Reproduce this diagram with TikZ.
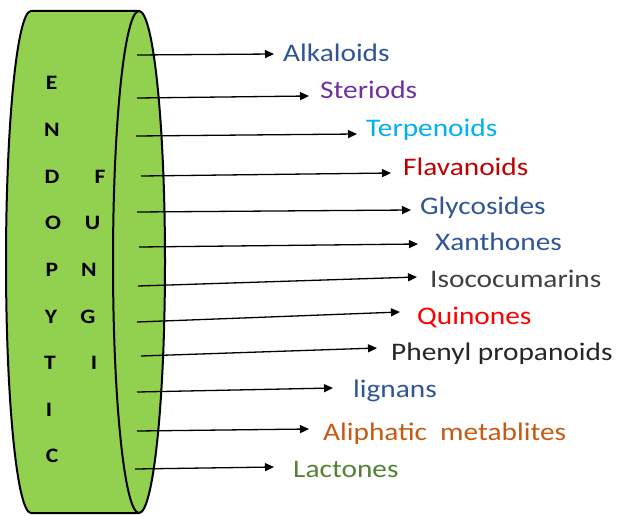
\documentclass[tikz,border=0pt]{standalone}
\usepackage{fontspec}
\setmainfont{Carlito}
\newfontfamily\labfont[FakeStretch=1.16]{Carlito}
\newfontfamily\letfont[FakeStretch=1.15]{Carlito}
\usetikzlibrary{arrows.meta}
\definecolor{cylgreen}{HTML}{92D050}
\definecolor{cblue}{HTML}{2F5597}
\definecolor{cpurple}{HTML}{7030A0}
\definecolor{ccyan}{HTML}{00B0F0}
\definecolor{cdarkred}{HTML}{C00000}
\definecolor{cgray}{HTML}{404040}
\definecolor{cred}{HTML}{FF0000}
\definecolor{cblack}{HTML}{262626}
\definecolor{corange}{HTML}{C55A11}
\definecolor{cgreen}{HTML}{548235}
\begin{document}
\begin{tikzpicture}[x=1pt,y=1pt,
  lab/.style={anchor=base west,inner sep=0pt,font=\labfont\fontsize{25.3}{28}\selectfont},
  letter/.style={anchor=base,inner sep=0pt,font=\letfont\bfseries\fontsize{20.5}{22}\selectfont},
  arr/.style={line width=1.3pt,-{Triangle[length=9pt,width=8pt]}},
  outline/.style={line width=2pt,line join=round}]
\useasboundingbox (0,0) rectangle (617,515);
% cylinder
\path[outline,fill=cylgreen,draw=black]
  (31,504) -- (139,504)
  arc[start angle=90,end angle=-90,x radius=26,y radius=251]
  -- (31,2)
  arc[start angle=270,end angle=90,x radius=25,y radius=251]
  -- cycle;
\draw[outline] (139,504) arc[start angle=90,end angle=270,x radius=26,y radius=251];
% letters
\node[letter] (l1) at (51.5,425) {E};
\node[letter] (l2) at (52,378.4) {N};
\node[letter] (l3) at (52,331.8) {D};
\node[letter] (l4) at (53,285.2) {O};
\node[letter] (l5) at (52,238.6) {P};
\node[letter] (l6) at (51,192) {Y};
\node[letter] (l7) at (50,145.4) {T};
\node[letter] (l8) at (49,98.8) {I};
\node[letter] (l9) at (52,52.2) {C};
\node[letter] (r1) at (100,331.8) {F};
\node[letter] (r2) at (92.5,285.2) {U};
\node[letter] (r3) at (89,238.6) {N};
\node[letter] (r4) at (88,192) {G};
\node[letter] (r5) at (94,145.4) {I};
% labels
\node[lab,text=cblue] (t1) at (283,453) {Alkaloids};
\node[lab,text=cpurple] (t2) at (320,416) {Steriods};
\node[lab,text=ccyan] (t3) at (366,378) {Terpenoids};
\node[lab,text=cdarkred] (t4) at (403,340) {Flavanoids};
\node[lab,text=cblue] (t5) at (420,301) {Glycosides};
\node[lab,text=cblue] (t6) at (435,265) {Xanthones};
\node[lab,text=cgray] (t7) at (430,228) {Isococumarins};
\node[lab,text=cred] (t8) at (417,191) {Quinones};
\node[lab,text=cblack] (t9) at (391,155) {Phenyl propanoids};
\node[lab,text=cblue] (t10) at (353,118) {lignans};
\node[lab,text=corange] (t11) at (323,75) {Aliphatic\ \ metablites};
\node[lab,text=cgreen] (t12) at (293,38) {Lactones};
% arrow coordinates
\coordinate (s1) at (137,460);  \coordinate (e1) at (274,461);
\coordinate (s2) at (137,417);  \coordinate (e2) at (309,419);
\coordinate (s3) at (136,379);  \coordinate (e3) at (357,381);
\coordinate (s4) at (141,339);  \coordinate (e4) at (391,342);
\coordinate (s5) at (137,303);  \coordinate (e5) at (411,305);
\coordinate (s6) at (139,268);  \coordinate (e6) at (418,271);
\coordinate (s7) at (138,229);  \coordinate (e7) at (417,238);
\coordinate (s8) at (137,193);  \coordinate (e8) at (400,203);
\coordinate (s9) at (141,159);  \coordinate (e9) at (377,167);
\coordinate (s10) at (137,123); \coordinate (e10) at (333,127);
\coordinate (s11) at (137,84);  \coordinate (e11) at (309,86);
\coordinate (s12) at (135,46);  \coordinate (e12) at (274,48);
\foreach \i in {1,...,12} {\draw[arr] (s\i) -- (e\i);}
\end{tikzpicture}
\end{document}
